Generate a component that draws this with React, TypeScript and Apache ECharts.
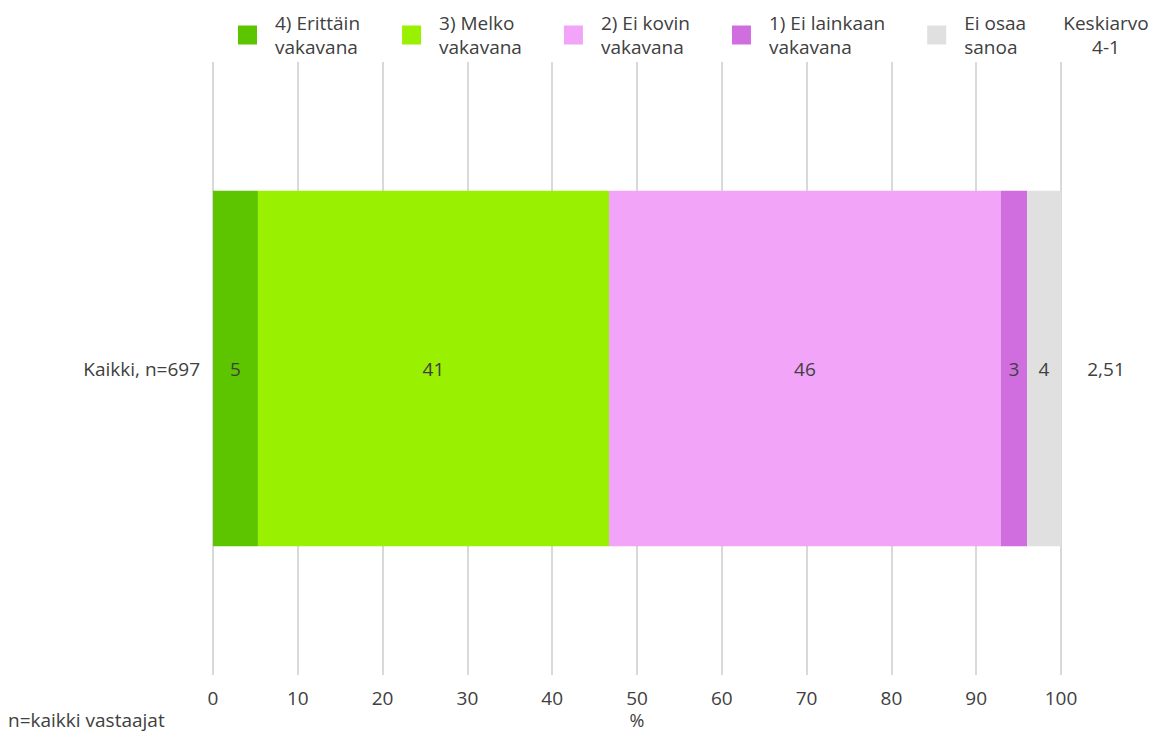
import React, { useEffect, useRef } from "react";
import * as echarts from "echarts";

const categories = ["Kaikki, n=697"];
const seriesNames = [
  "4) Erittäin\nvakavana",
  "3) Melko\nvakavana",
  "2) Ei kovin\nvakavana",
  "1) Ei lainkaan\nvakavana",
  "Ei osaa\nsanoa",
];
const seriesValues = [[5.3], [41.4], [46.2], [3.1], [4.0]];
const seriesColors = ["#5CC500", "#99F000", "#F2A4F8", "#D06EE0", "#E0E0E0"];
const xTicks = [0, 10, 20, 30, 40, 50, 60, 70, 80, 90, 100];
const meanValues = ["2,51"];
const meanHeader = "Keskiarvo\n4-1";
const footnote = "n=kaikki vastaajat";
const axisName = "%";

const FONT = "Open Sans";
const FS = 19;
const TXT = "#404040";

export default function App() {
  const ref = useRef<HTMLDivElement>(null);
  useEffect(() => {
    if (!ref.current) return;
    const chart = echarts.init(ref.current, undefined, { renderer: "svg" });
    chart.setOption({
      animation: false,
      textStyle: { fontFamily: FONT },
      grid: { left: 213, right: 92, top: 62, bottom: 60, containLabel: false, outerBoundsMode: "none" },
      legend: {
        left: 238,
        top: 11,
        padding: 0,
        itemWidth: 19,
        itemHeight: 19,
        itemGap: 42,
        icon: "rect",
        textStyle: { fontFamily: FONT, fontSize: FS, color: TXT, lineHeight: 24, padding: [0, 0, 0, 13] },
        data: seriesNames,
      },
      xAxis: {
        type: "value",
        min: 0,
        max: 100,
        interval: 10,
        axisLine: { show: false },
        axisTick: { show: false },
        axisLabel: {
          margin: 13,
          fontFamily: FONT,
          fontSize: FS,
          lineHeight: 20,
          color: TXT,
          formatter: (v: number) => (xTicks.includes(v) ? String(v) : ""),
        },
        splitLine: { show: true, lineStyle: { color: "#D9D9D9", width: 2 } },
      },
      yAxis: {
        type: "category",
        data: categories,
        axisLine: { show: false },
        axisTick: { show: false },
        axisLabel: { margin: 13, fontFamily: FONT, fontSize: FS, color: TXT },
      },
      series: seriesNames.map((name, i) => ({
        name,
        type: "bar",
        stack: "total",
        barWidth: "58%",
        data: seriesValues[i],
        itemStyle: { color: seriesColors[i] },
        label: {
          show: true,
          position: "inside",
          fontFamily: FONT,
          fontSize: FS,
          color: TXT,
          formatter: (p: any) => String(Math.round(p.value)),
        },
      })),
      graphic: [
        {
          type: "text",
          x: 1106,
          y: 11,
          style: {
            text: meanHeader,
            fontFamily: FONT,
            fontSize: FS,
            lineHeight: 24,
            fill: TXT,
            align: "center",
          },
        },
        {
          type: "text",
          x: 1106,
          y: 369,
          style: {
            text: meanValues[0],
            fontFamily: FONT,
            fontSize: FS,
            fill: TXT,
            align: "center",
            verticalAlign: "middle",
          },
        },
        {
          type: "text",
          x: 637,
          y: 720,
          style: {
            text: axisName,
            fontFamily: FONT,
            fontSize: 18,
            lineHeight: 18,
            fill: TXT,
            align: "center",
            verticalAlign: "middle",
          },
        },
        {
          type: "text",
          x: 8,
          y: 720,
          style: {
            text: footnote,
            fontFamily: FONT,
            fontSize: FS,
            fill: TXT,
            verticalAlign: "middle",
          },
        },
      ],
    });
    return () => chart.dispose();
  }, []);
  return <div ref={ref} style={{ width: 1153, height: 735, position: "absolute", left: 0, top: 0 }} />;
}
